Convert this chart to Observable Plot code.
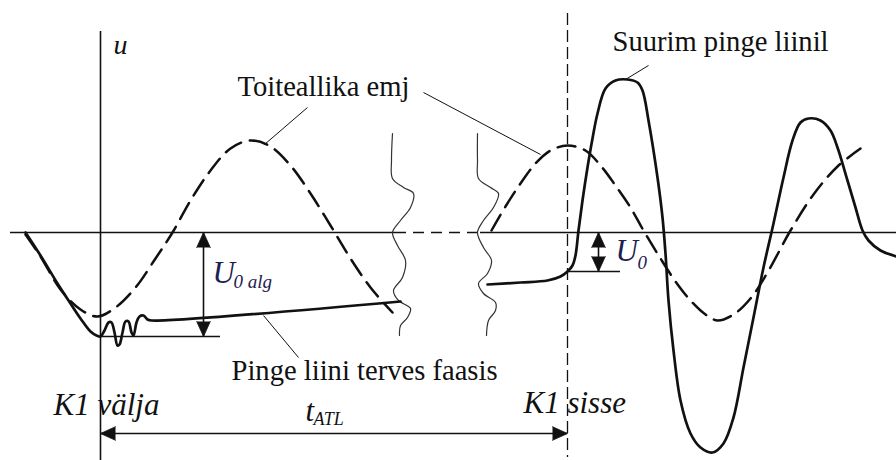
<!DOCTYPE html>
<html>
<head>
<meta charset="utf-8">
<script src="https://cdn.jsdelivr.net/npm/d3@7"></script>
<script src="https://cdn.jsdelivr.net/npm/@observablehq/plot@0.6"></script>
<style>
  html, body { margin: 0; padding: 0; background: #fff; }
  #chart svg { display: block; }
  #chart svg text { font-family: "Liberation Serif", "Times New Roman", serif; }
</style>
</head>
<body>
<div id="chart"></div>
<script>
// Auto-reclosing (ATL) sketch: time t (arbitrary units, 0 at K1 opening),
// voltage u (arbitrary units, 0 on the time axis).

// Source emf before the time break (dashed)
const emfBefore = [
  [-75, -2], [-60, -24], [-40, -57], [-20, -77], [-3, -84], [15, -75], [35, -55],
  [55, -26], [72, 0], [90, 32], [110, 62], [130, 84], [150, 92], [170, 86],
  [190, 67], [210, 39], [230, 7], [250, -26], [270, -55], [292, -80]
];

// Source emf after the time break (dashed)
const emfAfter = [
  [391, 2], [405, 26], [420, 49], [435, 69], [450, 82], [467, 87], [485, 82],
  [500, 67], [515, 47], [530, 25], [543, 2], [560, -26], [575, -49], [590, -68],
  [605, -82], [617, -88], [633, -82], [650, -66], [667, -40], [690, 2], [713, 38],
  [737, 66], [760, 84]
];

// Line voltage on the healthy phase: decay after K1 opens
const lineBefore = [
  [-75, 0], [-60, -23], [-43, -51], [-30, -71], [-20, -86], [-10, -99], [-4, -103],
  [0, -104], [4, -98], [8, -90], [11, -90], [14, -100], [17, -113], [19, -112],
  [22, -100], [25, -89], [28, -89], [31, -100], [33, -103], [36, -90], [39, -84],
  [43, -83], [47, -87], [51, -88], [300, -69]
];

// Line voltage after K1 closes again (overvoltage transient)
const lineAfter = [
  [387, -52], [420, -50], [447, -48], [460, -44], [467, -39], [472, -33], [475, -23],
  [478, 2], [482, 32], [487, 65], [492, 94], [497, 119], [505, 144], [515, 152],
  [527, 153], [537, 150], [542, 142], [548, 112], [557, 55], [562, 15], [565, -21],
  [568, -68], [573, -118], [580, -168], [590, -201], [600, -215], [612, -220],
  [623, -211], [633, -185], [643, -135], [653, -85], [663, -35], [673, 9], [683, 55],
  [692, 92], [700, 110], [708, 114], [720, 112], [730, 102], [737, 85], [747, 52],
  [755, 25], [762, 2], [768, -8], [780, -18], [796, -24]
];

// Wavy break marks on the time axis
const breakLeft = [
  [292, 99], [291, 72], [292, 54], [303, 45], [313, 39], [310, 25], [300, 12],
  [292, 0], [297, -13], [305, -28], [302, -45], [293, -58], [298, -68], [310, -76],
  [307, -85], [300, -93], [299, -103]
];
const breakRight = [
  [377, 99], [377, 72], [378, 54], [390, 45], [398, 39], [393, 25], [383, 12],
  [377, 0], [383, -15], [391, -28], [387, -41], [378, -51], [383, -61], [395, -70],
  [395, -78], [388, -88], [386, -103]
];

// Key instants and levels
const tOpen = 0;          // K1 välja
const tClose = 467;       // K1 sisse
const u0Start = -104;     // U0 alg level
const u0 = -39;           // U0 level at reclosing
const tAtlLevel = -201;   // level of the t_ATL dimension arrow

// Leader lines from the annotations to the curves
const leaders = [
  {t1: 207, u1: 125, t2: 164, u2: 88},
  {t1: 323, u1: 140, t2: 440, u2: 78},
  {t1: 548, u1: 167, t2: 525, u2: 153},
  {t1: 163, u1: -83, t2: 198, u2: -125}
];

// Filled arrow heads of the dimension arrows
const arrowHeads = [
  {t: 103, u: 0, rotate: 0}, {t: 103, u: u0Start, rotate: 180},
  {t: 498, u: 0, rotate: 0}, {t: 498, u: u0, rotate: 180},
  {t: tOpen, u: tAtlLevel, rotate: 270}, {t: tClose, u: tAtlLevel, rotate: 90}
];

// Upright annotations
const notes = [
  {t: 137, u: 137, text: "Toiteallika emj"},
  {t: 512, u: 182, text: "Suurim pinge liinil"},
  {t: 131, u: -147, text: "Pinge liini terves faasis"}
];
// Italic labels
const italicLabels = [
  {t: 13, u: 179, text: "u", size: 28},
  {t: -47, u: -182, text: "K1 välja", size: 31},
  {t: 423, u: -180, text: "K1 sisse", size: 31},
  {t: 205, u: -188, text: "t", size: 31}
];
const subscripts = [
  {t: 213, u: -192, text: "ATL"}
];
const voltageLabels = [
  {t: 112, u: -50, text: "U"},
  {t: 515, u: -28, text: "U"}
];
const voltageSubs = [
  {t: 133, u: -55, text: "0 alg"},
  {t: 537, u: -36, text: "0"}
];

const serif = "Liberation Serif";
const ink = "#111";
const navy = "#1c2050";
const px = d => d[0], py = d => d[1];

const chart = Plot.plot({
  width: 896,
  height: 460,
  margin: 0,
  x: {domain: [-100, 796], axis: null},
  y: {domain: [-228, 232], axis: null},
  style: {background: "#fff", overflow: "visible"},
  marks: [
    // time axis, dashed across the break
    Plot.ruleY([0], {x1: -90, x2: 295, stroke: ink, strokeWidth: 1.4}),
    Plot.ruleY([0], {x1: 295, x2: 380, stroke: ink, strokeWidth: 1.4, strokeDasharray: "11,7"}),
    Plot.ruleY([0], {x1: 380, x2: 796, stroke: ink, strokeWidth: 1.4}),
    // voltage axis at K1 opening
    Plot.ruleX([tOpen], {y1: 201, y2: -228, stroke: ink, strokeWidth: 1.6}),
    // K1 reclosing instant
    Plot.ruleX([tClose], {y1: 219, y2: -225, stroke: ink, strokeWidth: 1.3, strokeDasharray: "12,5"}),
    // reference levels for U0 alg and U0
    Plot.ruleY([u0Start], {x1: 0, x2: 120, stroke: ink, strokeWidth: 1.3}),
    Plot.ruleY([u0], {x1: tClose, x2: 520, stroke: ink, strokeWidth: 1.3}),
    // dimension arrow shafts
    Plot.ruleX([103], {y1: 0, y2: u0Start, stroke: ink, strokeWidth: 1.6}),
    Plot.ruleX([498], {y1: 0, y2: u0, stroke: ink, strokeWidth: 1.6}),
    Plot.ruleY([tAtlLevel], {x1: tOpen, x2: tClose, stroke: ink, strokeWidth: 1.6}),
    Plot.vector(arrowHeads, {
      x: "t", y: "u", rotate: "rotate", shape: "spike", anchor: "end",
      length: 15, r: 6.8, fill: ink, stroke: ink, strokeWidth: 0.8
    }),
    // break marks
    Plot.line(breakLeft, {x: px, y: py, curve: "catmull-rom", stroke: "#333", strokeWidth: 1.2}),
    Plot.line(breakRight, {x: px, y: py, curve: "catmull-rom", stroke: "#333", strokeWidth: 1.2}),
    // source emf
    Plot.line(emfBefore, {x: px, y: py, curve: "catmull-rom", stroke: ink, strokeWidth: 2.5, strokeDasharray: "18,9"}),
    Plot.line(emfAfter, {x: px, y: py, curve: "catmull-rom", stroke: ink, strokeWidth: 2.5, strokeDasharray: "18,9"}),
    // line voltage
    Plot.line(lineBefore, {x: px, y: py, curve: "catmull-rom", stroke: ink, strokeWidth: 2.7}),
    Plot.line(lineAfter, {x: px, y: py, curve: "catmull-rom", stroke: ink, strokeWidth: 2.7}),
    // leaders
    Plot.link(leaders, {x1: "t1", y1: "u1", x2: "t2", y2: "u2", stroke: ink, strokeWidth: 1}),
    // text
    Plot.text(notes, {x: "t", y: "u", text: "text", textAnchor: "start", lineAnchor: "bottom",
      fontFamily: serif, fontSize: 28.6, fill: ink}),
    ...italicLabels.map(d => Plot.text([d], {x: "t", y: "u", text: "text", textAnchor: "start",
      lineAnchor: "bottom", fontFamily: serif, fontStyle: "italic", fontSize: d.size, fill: ink})),
    Plot.text(subscripts, {x: "t", y: "u", text: "text", textAnchor: "start", lineAnchor: "bottom",
      fontFamily: serif, fontStyle: "italic", fontSize: 18, fill: ink}),
    Plot.text(voltageLabels, {x: "t", y: "u", text: "text", textAnchor: "start", lineAnchor: "bottom",
      fontFamily: serif, fontStyle: "italic", fontSize: 31, fill: navy}),
    Plot.text(voltageSubs, {x: "t", y: "u", text: "text", textAnchor: "start", lineAnchor: "bottom",
      fontFamily: serif, fontStyle: "italic", fontSize: 19, fill: navy})
  ]
});
document.getElementById("chart").appendChild(chart);
</script>
</body>
</html>
